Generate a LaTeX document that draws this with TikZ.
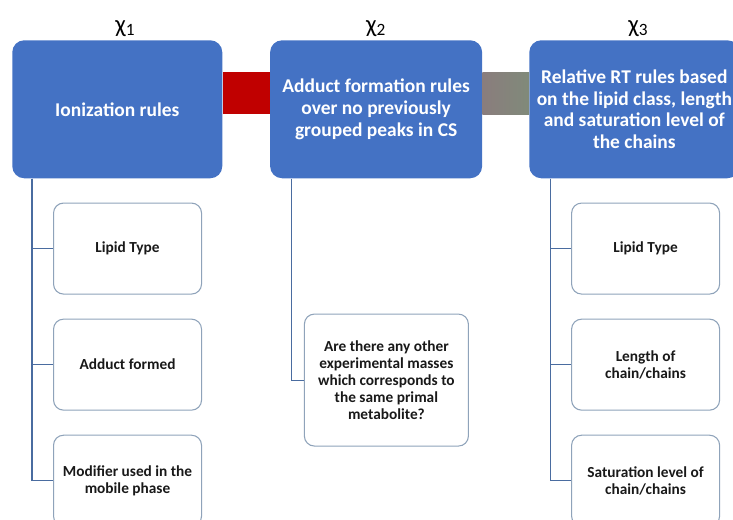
\documentclass[tikz,border=0pt]{standalone}
\usepackage{fontspec}
\setmainfont{Carlito}
\usepackage{xcolor}
\usetikzlibrary{shapes,arrows,positioning,calc}

\definecolor{ruleblue}{HTML}{4472C4}
\definecolor{leafline}{RGB}{143,163,186}
\definecolor{trunkline}{RGB}{74,108,160}
\definecolor{barred}{HTML}{C00000}

\tikzset{
  rule/.style={rectangle, rounded corners=9pt, fill=ruleblue, text=white, font=\bfseries\fontsize{14.6}{16.2}\selectfont, align=center, minimum width=157.5pt, minimum height=103.5pt, inner sep=0pt},
  leaf/.style={rectangle, rounded corners=7.5pt, draw=leafline, line width=0.8pt, fill=white, text=black!90, font=\bfseries\fontsize{11.5}{12.75}\selectfont, align=center, minimum width=111pt, minimum height=68.25pt, inner sep=0pt},
  trunk/.style={draw=trunkline, line width=0.8pt},
  chi/.style={font=\fontsize{18.5}{20}\selectfont, inner sep=0pt}
}

\begin{document}
\begin{tikzpicture}[x=0.75pt, y=-0.75pt]
	\useasboundingbox (0,0) rectangle (733,519);
	
	\node[rule, anchor=north west] (ion) at (12,40) {Ionization rules};
	\node[rule, right=35.5pt of ion, minimum width=159pt] (add) {Adduct formation rules\\over no previously\\grouped peaks in CS};
	\node[rule, right=35pt of add] (rt) {Relative RT rules based\\on the lipid class, length\\and saturation level of\\the chains};
	
	\node[chi, above=2.5pt of ion, xshift=6pt] (chia) {χ\textsubscript{1}};
	\node[chi, above=2.5pt of add] (chib) {χ\textsubscript{2}};
	\node[chi, above=2.5pt of rt, xshift=3pt] (chic) {χ\textsubscript{3}};
	
	\fill[barred] ([yshift=-24pt]ion.north east) rectangle ([yshift=-55.5pt]add.north west);
	\shade[left color={rgb,255:red,138;green,125;blue,125}, right color={rgb,255:red,128;green,138;blue,122}] ([yshift=-24pt]add.north east) rectangle ([yshift=-55.5pt]rt.north west);
	
	\node[leaf, below right=18pt and 30.75pt of ion.south west] (typea) {Lipid Type};
	\node[leaf, below=18pt of typea] (adf) {Adduct formed};
	\node[leaf, below=18pt of adf] (mod) {Modifier used in the\\mobile phase};
	
	\node[leaf, below right=101.25pt and 25.5pt of add.south west, minimum width=123pt, minimum height=99pt] (mass) {Are there any other\\experimental masses\\which corresponds to\\the same primal\\metabolite?};
	
	\node[leaf, below right=18pt and 31.5pt of rt.south west] (typeb) {Lipid Type};
	\node[leaf, below=18pt of typeb] (len) {Length of\\chain/chains};
	\node[leaf, below=18pt of len] (sat) {Saturation level of\\chain/chains};
	
	\draw[trunk] ([xshift=15pt]ion.south west) |- (typea.west);
	\draw[trunk] ([xshift=15pt]ion.south west) |- (adf.west);
	\draw[trunk] ([xshift=15pt]ion.south west) |- (mod.west);
	\draw[trunk] ([xshift=16.5pt]add.south west) |- (mass.west);
	\draw[trunk] ([xshift=15.75pt]rt.south west) |- (typeb.west);
	\draw[trunk] ([xshift=15.75pt]rt.south west) |- (len.west);
	\draw[trunk] ([xshift=15.75pt]rt.south west) |- (sat.west);
\end{tikzpicture}
\end{document}
